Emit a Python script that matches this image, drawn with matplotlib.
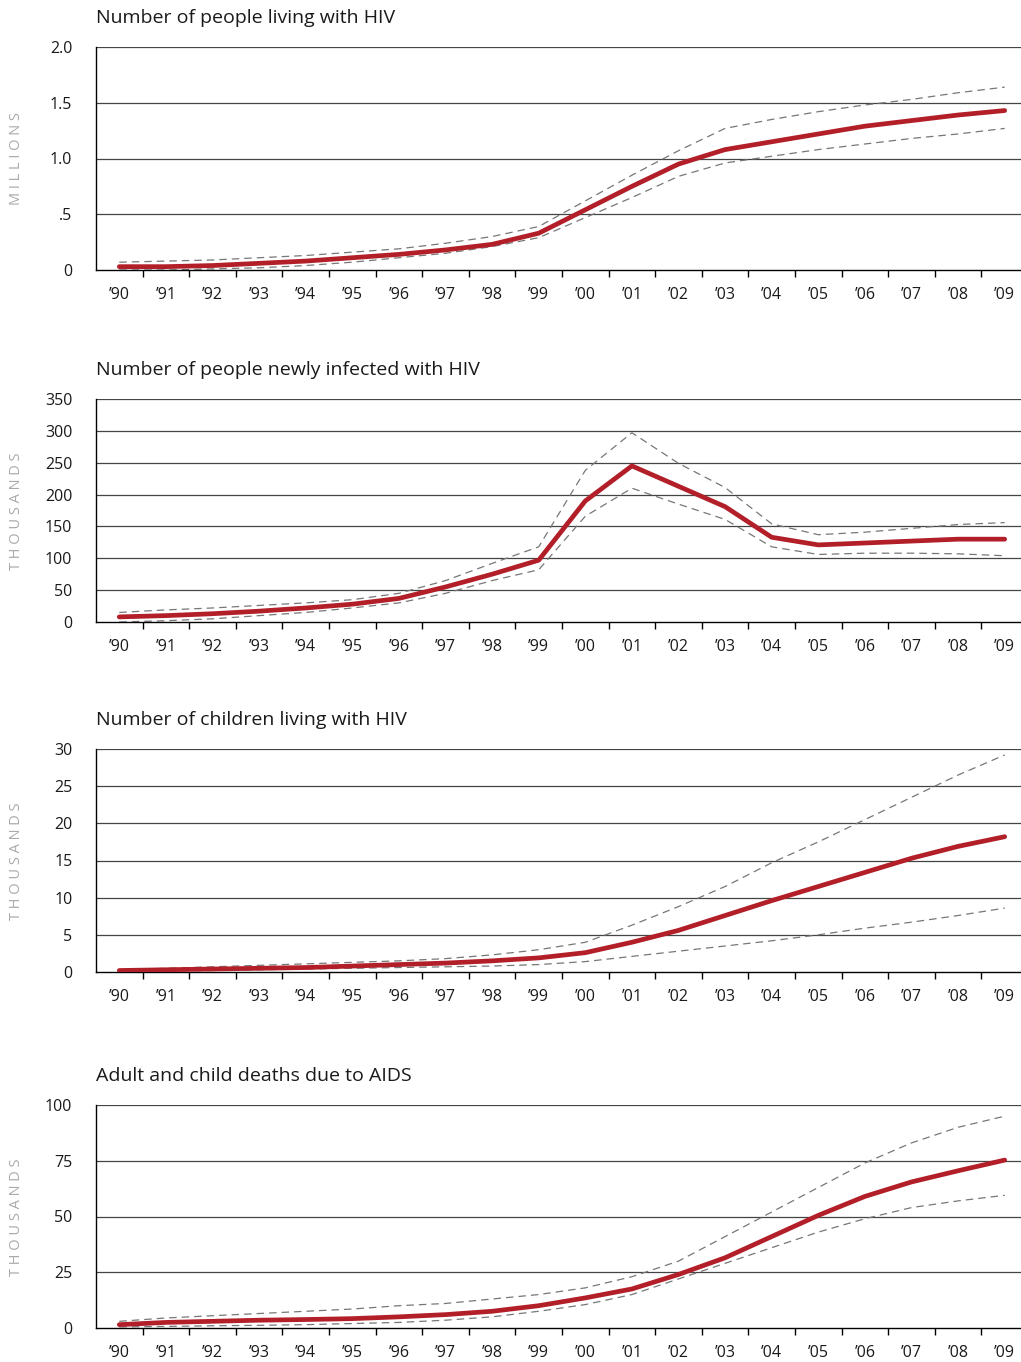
import numpy as np
import matplotlib
matplotlib.use("Agg")
import matplotlib.pyplot as plt

plt.rcParams['font.family'] = ['Open Sans', 'DejaVu Sans']

years = ["\u201990", "\u201991", "\u201992", "\u201993", "\u201994", "\u201995", "\u201996",
         "\u201997", "\u201998", "\u201999", "\u201900", "\u201901", "\u201902", "\u201903",
         "\u201904", "\u201905", "\u201906", "\u201907", "\u201908", "\u201909"]

# people living with HIV (millions)
living_est = [0.03, 0.03, 0.04, 0.06, 0.08, 0.11, 0.14, 0.18, 0.23, 0.33,
              0.54, 0.75, 0.95, 1.08, 1.15, 1.22, 1.29, 1.34, 1.39, 1.43]
living_hi = [0.07, 0.08, 0.09, 0.11, 0.13, 0.16, 0.19, 0.24, 0.30, 0.39,
             0.62, 0.85, 1.07, 1.27, 1.35, 1.42, 1.48, 1.53, 1.59, 1.64]
living_lo = [0.0, 0.0, 0.01, 0.02, 0.04, 0.07, 0.11, 0.15, 0.21, 0.29,
             0.47, 0.65, 0.84, 0.96, 1.02, 1.08, 1.13, 1.18, 1.22, 1.27]

# newly infected (thousands)
new_est = [8, 10, 13, 17, 22, 28, 37, 55, 75, 97,
           190, 245, 213, 181, 133, 121, 124, 127, 130, 130]
new_hi = [15, 19, 22, 26, 30, 35, 45, 65, 92, 118,
          238, 297, 249, 211, 154, 137, 141, 147, 153, 156]
new_lo = [0, 2, 5, 10, 15, 22, 30, 45, 65, 82,
          166, 210, 185, 161, 118, 106, 108, 108, 107, 104]

# children living with HIV (thousands)
child_est = [0.2, 0.3, 0.4, 0.5, 0.6, 0.8, 1.0, 1.2, 1.5, 1.9,
             2.6, 4.0, 5.6, 7.6, 9.6, 11.5, 13.4, 15.3, 16.9, 18.2]
child_hi = [0.3, 0.5, 0.7, 0.9, 1.1, 1.3, 1.5, 1.8, 2.3, 3.0,
            4.0, 6.3, 8.8, 11.5, 14.7, 17.5, 20.5, 23.5, 26.5, 29.2]
child_lo = [0.1, 0.15, 0.2, 0.3, 0.4, 0.5, 0.6, 0.7, 0.8, 1.0,
            1.4, 2.1, 2.8, 3.5, 4.2, 5.0, 5.9, 6.7, 7.6, 8.6]

# deaths due to AIDS (thousands)
death_est = [1.5, 2.5, 3, 3.5, 3.8, 4.2, 5, 6, 7.5, 10,
             13.5, 17.5, 24, 31.5, 41, 50.5, 59, 65.5, 70.5, 75.3]
death_hi = [3, 4.5, 5.5, 6.5, 7.5, 8.5, 10, 11, 13, 15,
            18, 23, 30, 41, 52, 63, 74, 83, 90, 95]
death_lo = [0.5, 0.7, 1, 1.2, 1.5, 2, 2.5, 3.5, 5, 7.5,
            10.5, 15, 22, 29, 36, 43, 49, 54, 57, 59.5]

panels = [
    ("Number of people living with HIV", "MILLIONS", living_est, living_hi, living_lo,
     [0, 0.5, 1.0, 1.5, 2.0], ["0", ".5", "1.0", "1.5", "2.0"], 270),
    ("Number of people newly infected with HIV", "THOUSANDS", new_est, new_hi, new_lo,
     [0, 50, 100, 150, 200, 250, 300, 350], None, 622),
    ("Number of children living with HIV", "THOUSANDS", child_est, child_hi, child_lo,
     [0, 5, 10, 15, 20, 25, 30], None, 972),
    ("Adult and child deaths due to AIDS", "THOUSANDS", death_est, death_hi, death_lo,
     [0, 25, 50, 75, 100], None, 1328),
]

W, H = 1021, 1362
fig = plt.figure(figsize=(W / 100, H / 100), dpi=100)
red = "#b31f29"
x = np.arange(len(years))

for title, unit, est, hi, lo, yt, ytl, bottom_px in panels:
    ax = fig.add_axes([96 / W, 1 - bottom_px / H, (1028 - 96) / W, 223 / H])
    ax.set_xlim(-0.5, len(years) - 0.5)
    ax.set_ylim(yt[0], yt[-1])
    for v in yt[1:]:
        ax.axhline(v, color="#444444", lw=0.9, zorder=1)
    ax.plot(x, hi, color="#777777", lw=0.9, ls=(0, (6, 4)), zorder=2)
    ax.plot(x, lo, color="#777777", lw=0.9, ls=(0, (6, 4)), zorder=2)
    ax.plot(x, est, color=red, lw=3.4, solid_capstyle="round", solid_joinstyle="round", zorder=3)

    for s in ["top", "right"]:
        ax.spines[s].set_visible(False)
    ax.spines["left"].set_linewidth(1.0)
    ax.spines["bottom"].set_linewidth(1.0)

    ax.set_xticks(x[:-1] + 0.5)
    ax.set_xticklabels([])
    ax.set_xticks(x, minor=True)
    ax.set_xticklabels(years, minor=True)
    ax.tick_params(axis="x", which="major", length=5, width=1, direction="out")
    ax.tick_params(axis="x", which="minor", length=0, pad=12, labelsize=11.5, labelcolor="#1a1a1a")

    ax.set_yticks(yt)
    ax.set_yticklabels(ytl if ytl else [str(v) for v in yt])
    ax.tick_params(axis="y", length=0, pad=17, labelsize=11.5, labelcolor="#1a1a1a")

    ax.text(0, 1 + 29 / 223, title, transform=ax.transAxes, ha="left", va="center",
            fontsize=14, color="#1a1a1a")
    fig.text(16 / W, 1 - (bottom_px - 111) / H, " ".join(unit), rotation=90,
             ha="center", va="center", fontsize=10.5, color="#aaaaaa")

fig.savefig("out.png", dpi=100)
